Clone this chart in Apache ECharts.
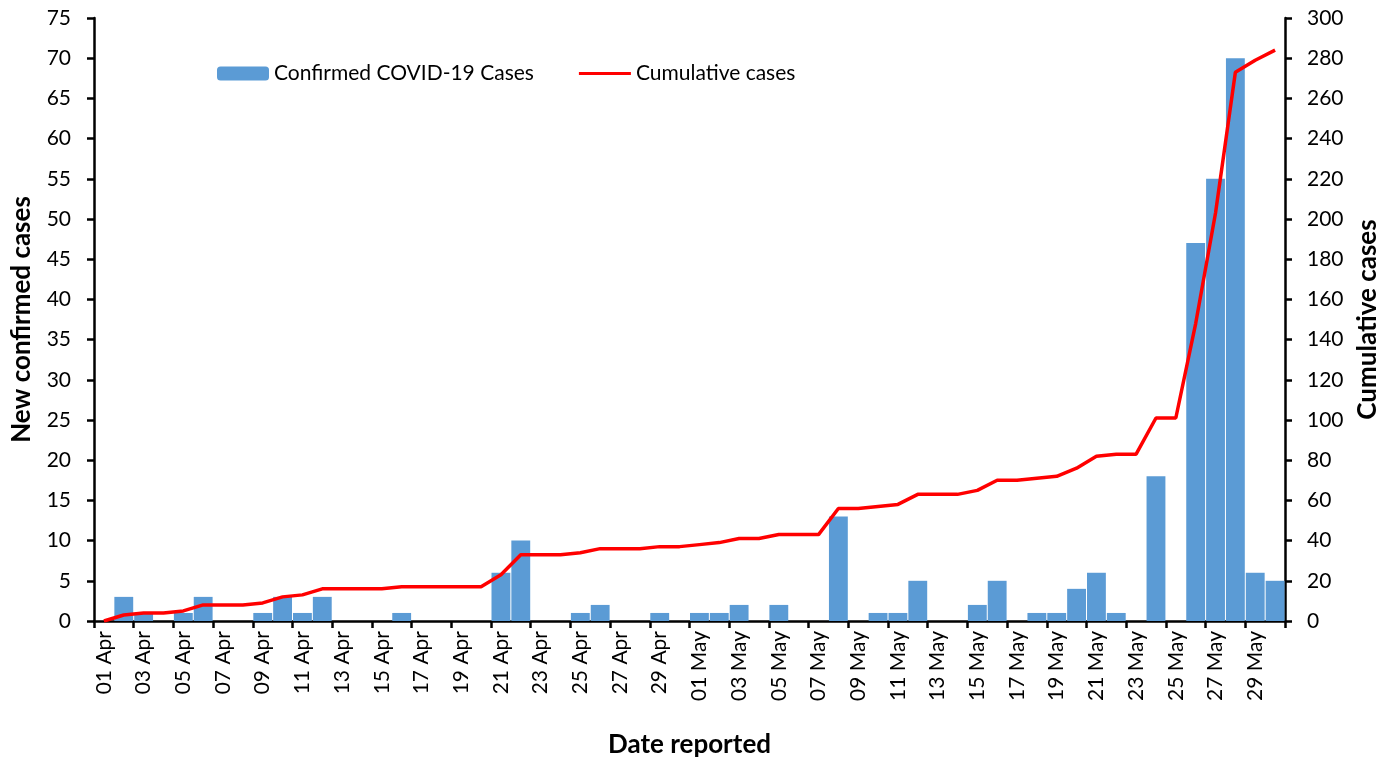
<!DOCTYPE html>
<html>
<head>
<meta charset="utf-8">
<script src="https://cdn.jsdelivr.net/npm/echarts@6/dist/echarts.min.js"></script>
<style>
  html, body { margin: 0; padding: 0; background: #fff; }
  #main { width: 1386px; height: 759px; }
</style>
</head>
<body>
<div id="main"></div>
<script>
// dias: 01 Apr .. 30 May
var datas = [
	'01 Apr','02 Apr','03 Apr','04 Apr','05 Apr','06 Apr','07 Apr','08 Apr','09 Apr','10 Apr',
	'11 Apr','12 Apr','13 Apr','14 Apr','15 Apr','16 Apr','17 Apr','18 Apr','19 Apr','20 Apr',
	'21 Apr','22 Apr','23 Apr','24 Apr','25 Apr','26 Apr','27 Apr','28 Apr','29 Apr','30 Apr',
	'01 May','02 May','03 May','04 May','05 May','06 May','07 May','08 May','09 May','10 May',
	'11 May','12 May','13 May','14 May','15 May','16 May','17 May','18 May','19 May','20 May',
	'21 May','22 May','23 May','24 May','25 May','26 May','27 May','28 May','29 May','30 May'
];

var casosNovos = [
	0, 3, 1, 0, 1, 3, 0, 0, 1, 3,
	1, 3, 0, 0, 0, 1, 0, 0, 0, 0,
	6, 10, 0, 0, 1, 2, 0, 0, 1, 0,
	1, 1, 2, 0, 2, 0, 0, 13, 0, 1,
	1, 5, 0, 0, 2, 5, 0, 1, 1, 4,
	6, 1, 0, 18, 0, 47, 55, 70, 6, 5
];

var casosAcumulados = [
	0, 3, 4, 4, 5, 8, 8, 8, 9, 12,
	13, 16, 16, 16, 16, 17, 17, 17, 17, 17,
	23, 33, 33, 33, 34, 36, 36, 36, 37, 37,
	38, 39, 41, 41, 43, 43, 43, 56, 56, 57,
	58, 63, 63, 63, 65, 70, 70, 71, 72, 76,
	82, 83, 83, 101, 101, 148, 203, 273, 279, 284
];

var fonte = 'Lato, "Open Sans", sans-serif';

var eixoLinha = { show: true, lineStyle: { color: '#000', width: 2.5 } };
var eixoTick = { show: true, inside: false, length: 7, lineStyle: { color: '#000', width: 2.5 } };
var estiloNome = { fontSize: 26, fontWeight: 'bold', color: '#000', fontFamily: fonte };

var myChart = echarts.init(document.getElementById('main'));
var option = {
	animation: false,
	textStyle: { fontFamily: fonte },
	legend: {
		left: 212,
		top: 58,
		itemWidth: 52,
		itemHeight: 14,
		itemGap: 45,
		textStyle: { fontSize: 21, color: '#000', fontFamily: fonte },
		data: [
			'Confirmed COVID-19 Cases',
			{ name: 'Cumulative cases', icon: 'path://M0,0H52V3.2H0Z' }
		]
	},
	grid: { left: 94, right: 101, top: 18, bottom: 138, containLabel: false, outerBoundsMode: 'none' },
	xAxis: {
		type: 'category',
		data: datas,
		boundaryGap: true,
		name: 'Date reported',
		nameLocation: 'middle',
		nameGap: 111,
		nameTextStyle: estiloNome,
		axisLine: eixoLinha,
		axisTick: { show: true, interval: 1, length: 7, lineStyle: { color: '#000', width: 2.5 } },
		axisLabel: { interval: 1, rotate: 90, fontSize: 21, color: '#000', margin: 10, fontFamily: fonte },
		splitLine: { show: false }
	},
	yAxis: [
		{
			type: 'value',
			min: 0,
			max: 75,
			interval: 5,
			name: 'New confirmed cases',
			nameLocation: 'middle',
			nameRotate: 90,
			nameGap: 59,
			nameTextStyle: estiloNome,
			axisLine: eixoLinha,
			axisTick: eixoTick,
			axisLabel: { fontSize: 21, color: '#000', margin: 23, fontFamily: fonte },
			splitLine: { show: false }
		},
		{
			type: 'value',
			min: 0,
			max: 300,
			interval: 20,
			name: 'Cumulative cases',
			nameLocation: 'middle',
			nameRotate: 90,
			nameGap: 60,
			nameTextStyle: estiloNome,
			axisLine: eixoLinha,
			axisTick: eixoTick,
			axisLabel: { fontSize: 21, color: '#000', margin: 22, fontFamily: fonte },
			splitLine: { show: false }
		}
	],
	series: [
		{
			name: 'Confirmed COVID-19 Cases',
			type: 'bar',
			yAxisIndex: 0,
			data: casosNovos,
			barCategoryGap: '5%',
			itemStyle: { color: '#5b9bd5' }
		},
		{
			name: 'Cumulative cases',
			type: 'line',
			yAxisIndex: 1,
			data: casosAcumulados,
			symbol: 'none',
			lineStyle: { color: '#ff0000', width: 3.5 },
			itemStyle: { color: '#ff0000' },
			z: 3
		}
	]
};

myChart.setOption(option);
</script>
</body>
</html>
